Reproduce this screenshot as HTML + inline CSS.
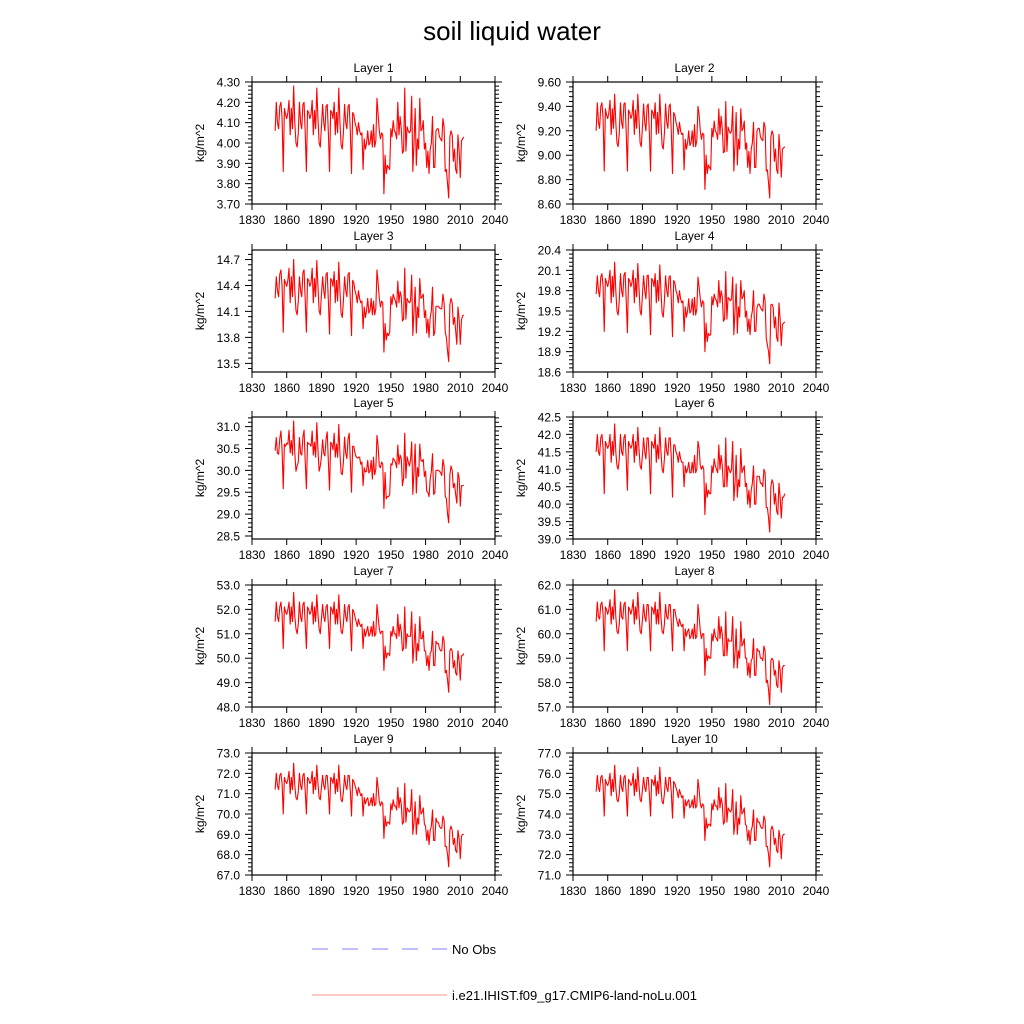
<!DOCTYPE html>
<html><head><meta charset="utf-8"><style>
html,body{margin:0;padding:0;background:#fff;}
svg{display:block;font-family:"Liberation Sans",Arial,sans-serif;}
</style></head><body>
<svg id="chart" width="1024" height="1024" viewBox="0 0 1024 1024" xmlns="http://www.w3.org/2000/svg">
<rect x="0" y="0" width="1024" height="1024" fill="#fff"/>
<text x="512" y="40" font-size="26" text-anchor="middle" fill="#000">soil liquid water</text>
<g id="panels"></g>
<g>
<line x1="312" y1="949" x2="447" y2="949" stroke="#8080ff" stroke-width="1" stroke-dasharray="16,14"/>
<text x="452" y="954" font-size="13" fill="#000">No Obs</text>
<line x1="312" y1="995" x2="447" y2="995" stroke="#ff9090" stroke-width="1"/>
<text x="452" y="1000" font-size="13" fill="#000">i.e21.IHIST.f09_g17.CMIP6-land-noLu.001</text>
</g>
</svg>
<script>
const startYear = 1850;
const xTicks = [1830,1860,1890,1920,1950,1980,2010,2040];
const layerNames = ["Layer 1","Layer 2","Layer 3","Layer 4","Layer 5","Layer 6","Layer 7","Layer 8","Layer 9","Layer 10"];
const yMins = [3.70,8.60,13.40,18.60,28.43,39.0,48.0,57.0,67.0,71.0];
const yMaxs = [4.30,9.60,14.81,20.40,31.22,42.5,53.0,62.0,73.0,77.0];
const yTickStarts = [3.70,8.60,13.5,18.6,28.5,39.0,48.0,57.0,67.0,71.0];
const yTickSteps = [0.1,0.2,0.3,0.3,0.5,0.5,1,1,1,1];
const yTickCounts = [7,6,5,7,6,8,6,6,7,7];
const yTickDecimals = [2,2,1,1,1,1,1,1,1,1];

const layer1 = [4.06,4.20,4.10,4.07,4.18,4.20,4.12,3.86,4.17,4.14,
4.12,4.15,4.21,4.04,4.17,4.07,4.28,4.10,4.00,3.98,
4.05,4.20,4.10,4.07,4.19,4.20,4.05,3.86,4.16,4.15,
4.12,4.14,4.21,4.04,4.16,4.07,4.27,4.12,4.00,3.98,
4.08,4.19,4.10,4.06,4.18,4.19,4.05,3.86,4.16,4.15,
4.12,4.20,4.04,4.15,4.05,4.27,4.10,3.99,3.97,4.05,
4.19,4.10,4.07,4.18,4.19,4.05,3.85,4.15,4.14,4.10,
4.08,4.04,4.10,4.06,4.04,4.05,3.87,4.02,3.97,4.00,
4.06,3.99,4.00,4.06,3.98,4.09,3.98,4.01,4.22,4.14,
4.06,4.02,4.05,4.04,3.75,3.94,3.85,3.89,3.88,3.87,
4.07,4.03,4.11,4.06,4.05,4.02,4.20,4.04,4.13,4.07,
3.95,3.96,4.27,3.96,4.08,4.06,4.05,4.06,4.23,3.86,
4.00,4.17,3.89,4.02,3.97,4.22,4.06,4.07,4.11,3.97,
4.00,3.88,3.96,3.85,3.97,4.00,4.13,3.88,3.88,4.06,
4.07,4.07,4.03,4.02,4.01,4.12,4.08,3.86,3.87,3.80,
3.73,4.03,4.06,4.04,3.91,3.97,3.87,3.85,4.04,3.96,
3.83,4.01,4.02,4.03];
const layer2 = [9.20,9.43,9.27,9.22,9.40,9.43,9.30,8.87,9.38,9.33,
9.30,9.35,9.45,9.17,9.38,9.22,9.50,9.27,9.10,9.07,
9.18,9.43,9.27,9.22,9.42,9.43,9.18,8.87,9.37,9.35,
9.30,9.33,9.45,9.17,9.37,9.22,9.50,9.30,9.10,9.07,
9.23,9.42,9.27,9.20,9.40,9.42,9.18,8.87,9.37,9.35,
9.30,9.43,9.17,9.35,9.18,9.50,9.27,9.08,9.05,9.18,
9.42,9.27,9.22,9.40,9.42,9.18,8.85,9.35,9.33,9.27,
9.23,9.17,9.27,9.20,9.17,9.18,8.88,9.13,9.05,9.10,
9.20,9.08,9.10,9.20,9.07,9.25,9.07,9.12,9.40,9.33,
9.20,9.13,9.18,9.17,8.72,9.00,8.85,8.92,8.90,8.88,
9.22,9.15,9.28,9.20,9.18,9.13,9.38,9.17,9.32,9.22,
9.02,9.03,9.44,9.03,9.23,9.20,9.18,9.20,9.40,8.87,
9.10,9.35,8.92,9.13,9.05,9.38,9.20,9.22,9.28,9.05,
9.10,8.90,9.03,8.85,9.05,9.10,9.27,8.90,8.90,9.20,
9.22,9.22,9.15,9.13,9.12,9.27,9.23,8.87,8.88,8.77,
8.65,9.15,9.20,9.17,8.95,9.05,8.88,8.85,9.17,9.03,
8.82,9.05,9.06,9.07];
const layer3 = [14.25,14.50,14.34,14.27,14.53,14.58,14.39,13.86,14.47,14.43,
14.39,14.46,14.60,14.20,14.50,14.27,14.70,14.34,14.11,14.06,
14.22,14.50,14.34,14.27,14.55,14.58,14.22,13.86,14.48,14.46,
14.39,14.43,14.60,14.20,14.48,14.27,14.69,14.39,14.11,14.06,
14.29,14.50,14.34,14.25,14.53,14.55,14.22,13.84,14.48,14.46,
14.39,14.56,14.20,14.46,14.22,14.67,14.34,14.08,14.03,14.22,
14.50,14.34,14.27,14.53,14.55,14.22,13.82,14.46,14.43,14.34,
14.29,14.20,14.34,14.25,14.20,14.22,13.90,14.15,14.03,14.11,
14.25,14.08,14.11,14.25,14.06,14.22,14.06,14.13,14.58,14.43,
14.25,14.15,14.22,14.20,13.63,13.96,13.77,13.85,13.82,13.86,
14.27,14.18,14.30,14.25,14.22,14.15,14.45,14.20,14.33,14.27,
13.99,14.01,14.60,14.01,14.25,14.22,14.20,14.22,14.52,13.82,
14.11,14.38,13.85,14.15,14.03,14.48,14.25,14.27,14.30,14.03,
14.11,13.85,14.01,13.80,14.03,14.11,14.38,13.82,13.86,14.16,
14.16,14.16,14.14,14.13,14.13,14.30,14.20,13.86,13.80,13.64,
13.52,14.18,14.25,14.20,13.95,14.03,13.88,13.72,14.15,14.01,
13.72,14.00,14.05,14.06];
const layer4 = [19.75,20.02,19.80,19.71,20.00,20.05,19.86,19.20,19.98,19.92,
19.86,19.95,20.10,19.62,20.01,19.71,20.22,19.80,19.50,19.44,
19.65,20.05,19.80,19.71,20.03,20.07,19.65,19.18,19.98,19.95,
19.86,19.92,20.10,19.62,19.98,19.71,20.20,19.86,19.50,19.44,
19.74,20.02,19.80,19.68,20.02,20.03,19.65,19.15,19.98,19.95,
19.86,20.05,19.62,19.95,19.65,20.18,19.80,19.47,19.41,19.65,
20.02,19.80,19.71,20.00,20.02,19.65,19.12,19.95,19.92,19.80,
19.74,19.62,19.80,19.68,19.62,19.65,19.20,19.56,19.41,19.50,
19.68,19.47,19.50,19.68,19.44,19.70,19.44,19.53,20.00,19.85,
19.68,19.56,19.65,19.62,18.90,19.32,19.05,19.17,19.14,19.15,
19.71,19.59,19.75,19.68,19.65,19.56,19.95,19.62,19.80,19.71,
19.35,19.38,20.08,19.38,19.70,19.68,19.65,19.68,20.00,19.15,
19.50,19.90,19.17,19.56,19.41,19.95,19.68,19.71,19.80,19.41,
19.50,19.20,19.38,19.15,19.41,19.50,19.80,19.20,19.20,19.55,
19.60,19.60,19.55,19.52,19.50,19.75,19.65,19.10,19.00,18.90,
18.72,19.59,19.60,19.55,19.25,19.41,19.11,19.05,19.62,19.38,
18.99,19.30,19.32,19.34];
const layer5 = [30.45,30.75,30.39,30.37,30.72,30.90,30.47,29.58,30.60,30.55,
30.62,30.60,30.92,30.40,30.68,30.35,31.13,30.39,29.98,30.10,
30.19,30.75,30.39,30.35,30.76,30.92,30.19,29.58,30.64,30.60,
30.60,30.55,30.90,30.35,30.64,30.30,31.09,30.47,29.98,30.10,
30.31,30.70,30.39,30.33,30.72,30.88,30.19,29.55,30.64,30.60,
30.47,30.85,30.30,30.60,30.30,31.05,30.39,29.94,29.90,30.19,
30.76,30.39,30.27,30.72,30.85,30.19,29.50,30.55,30.55,30.39,
30.31,30.28,30.30,30.30,30.14,30.19,29.65,30.06,29.96,29.98,
30.23,29.94,29.98,30.23,29.80,30.30,29.90,30.02,30.80,30.55,
30.10,30.06,30.19,30.14,29.13,29.95,29.35,29.40,29.40,29.45,
30.15,30.12,30.28,30.23,30.19,30.06,30.58,30.14,30.35,30.27,
29.65,29.82,30.85,29.82,30.31,30.20,30.10,30.23,30.65,29.45,
29.98,30.60,29.48,30.06,29.86,30.60,30.23,30.20,30.25,29.86,
29.98,29.52,29.50,29.40,29.80,29.98,30.38,29.45,29.49,30.00,
30.00,30.00,29.98,29.95,29.88,30.25,30.10,29.41,29.35,29.00,
28.80,29.90,30.10,30.00,29.60,29.70,29.45,29.25,29.95,29.82,
29.18,29.65,29.65,29.66];
const layer6 = [41.5,42.0,41.5,41.4,41.9,42.0,41.6,40.3,41.8,41.7,
41.6,41.7,42.0,41.2,41.8,41.4,42.3,41.5,41.1,41.0,
41.3,42.0,41.5,41.4,41.9,42.0,41.3,40.4,41.8,41.7,
41.6,41.7,42.0,41.2,41.8,41.4,42.2,41.6,41.1,41.0,
41.4,41.9,41.5,41.3,41.9,41.9,41.3,40.3,41.8,41.7,
41.6,42.0,41.2,41.7,41.3,42.2,41.5,41.0,40.9,41.3,
41.9,41.5,41.4,41.9,41.9,41.3,40.2,41.7,41.7,41.5,
41.4,41.2,41.5,41.3,41.2,41.2,40.5,41.1,40.9,41.0,
41.2,40.9,40.9,41.2,40.9,41.4,40.9,41.0,41.8,41.6,
41.1,41.0,41.1,41.0,39.7,40.6,40.2,40.4,40.3,40.3,
41.1,40.9,41.3,41.1,41.0,40.9,41.7,41.0,41.4,41.1,
40.5,40.5,41.9,40.5,41.1,41.0,40.9,41.0,41.8,40.1,
40.6,41.4,40.2,40.7,40.5,41.6,40.9,41.0,41.1,40.5,
40.6,40.0,40.4,39.9,40.4,40.6,41.1,40.0,40.0,40.8,
40.8,40.8,40.6,40.6,40.5,41.0,40.9,39.9,39.9,39.6,
39.2,40.5,40.7,40.6,40.0,40.3,39.8,39.7,40.6,40.2,
39.6,40.2,40.2,40.3];
const layer7 = [51.5,52.3,51.7,51.5,52.1,52.3,51.8,50.4,52.1,51.9,
51.8,52.0,52.3,51.4,52.1,51.5,52.7,51.7,51.2,51.0,
51.4,52.3,51.7,51.5,52.2,52.3,51.4,50.4,52.1,52.0,
51.8,51.9,52.3,51.4,52.1,51.5,52.6,51.8,51.2,51.0,
51.6,52.2,51.7,51.5,52.1,52.2,51.4,50.4,52.1,52.0,
51.8,52.3,51.4,52.0,51.4,52.6,51.7,51.1,51.0,51.4,
52.2,51.7,51.5,52.1,52.2,51.4,50.3,52.0,51.9,51.7,
51.5,51.3,51.6,51.4,51.3,51.4,50.4,51.2,50.9,51.1,
51.3,50.9,51.0,51.3,50.9,51.5,50.9,51.0,52.2,51.7,
51.2,51.0,51.1,51.1,49.5,50.5,50.0,50.2,50.2,50.1,
51.1,50.9,51.3,51.0,51.0,50.8,51.8,50.9,51.4,51.1,
50.3,50.4,52.1,50.4,51.0,50.9,50.9,50.9,51.9,49.8,
50.5,51.4,49.9,50.6,50.3,51.7,50.8,50.8,51.1,50.3,
50.3,49.7,50.1,49.5,50.2,50.3,51.1,49.7,49.7,50.7,
50.6,50.6,50.4,50.3,50.3,50.9,50.7,49.4,49.5,49.1,
48.6,50.3,50.4,50.3,49.6,49.9,49.4,49.3,50.3,49.9,
49.1,50.1,50.1,50.2];
const layer8 = [60.5,61.3,60.7,60.6,61.2,61.3,60.8,59.3,61.1,61.0,
60.8,61.0,61.4,60.4,61.1,60.6,61.8,60.7,60.1,60.0,
60.4,61.3,60.7,60.6,61.2,61.3,60.4,59.3,61.1,61.0,
60.8,61.0,61.4,60.4,61.1,60.6,61.7,60.8,60.1,60.0,
60.6,61.2,60.7,60.5,61.2,61.2,60.4,59.3,61.1,61.0,
60.8,61.3,60.4,61.0,60.4,61.7,60.7,60.1,60.0,60.4,
61.2,60.7,60.6,61.2,61.2,60.4,59.3,61.0,61.0,60.7,
60.5,60.3,60.6,60.4,60.3,60.4,59.3,60.2,59.9,60.1,
60.2,59.8,59.9,60.2,59.8,60.4,59.8,59.9,61.2,60.7,
60.1,59.8,60.0,60.0,58.3,59.4,58.9,59.1,59.0,59.0,
60.0,59.7,60.2,59.9,59.8,59.7,60.7,59.8,60.3,60.0,
59.1,59.1,60.9,59.1,59.8,59.7,59.7,59.7,60.7,58.6,
59.2,60.2,58.6,59.3,59.0,60.5,59.5,59.6,59.8,59.0,
59.0,58.3,58.8,58.2,58.9,59.0,59.8,58.3,58.3,59.4,
59.3,59.3,59.0,59.0,58.9,59.5,59.3,58.0,58.1,57.7,
57.1,58.9,59.0,58.9,58.3,58.5,57.9,57.8,58.9,58.5,
57.6,58.6,58.7,58.7];
const layer9 = [71.2,72.0,71.4,71.2,71.9,72.0,71.5,70.0,71.8,71.6,
71.5,71.7,72.1,71.0,71.8,71.2,72.5,71.4,70.8,70.7,
71.1,72.0,71.4,71.2,71.9,72.0,71.1,70.0,71.8,71.7,
71.5,71.6,72.1,71.0,71.8,71.2,72.4,71.5,70.8,70.7,
71.3,71.9,71.4,71.2,71.9,71.9,71.1,70.0,71.8,71.7,
71.5,72.0,71.0,71.7,71.1,72.4,71.4,70.7,70.6,71.1,
71.9,71.4,71.2,71.9,71.9,71.1,69.9,71.7,71.6,71.4,
71.2,70.9,71.3,71.1,70.9,71.0,69.9,70.8,70.5,70.7,
70.8,70.4,70.5,70.8,70.4,71.0,70.4,70.5,71.8,71.3,
70.6,70.4,70.6,70.5,68.8,69.9,69.4,69.6,69.6,69.5,
70.5,70.2,70.7,70.4,70.4,70.2,71.3,70.3,70.8,70.5,
69.5,69.6,71.5,69.6,70.3,70.2,70.1,70.2,71.2,69.0,
69.6,70.6,69.0,69.8,69.5,70.9,70.0,70.1,70.3,69.5,
69.4,68.7,69.2,68.5,69.2,69.4,70.2,68.7,68.7,69.8,
69.6,69.6,69.4,69.3,69.3,69.9,69.7,68.4,68.4,68.0,
67.4,69.2,69.4,69.2,68.5,68.8,68.2,68.1,69.2,68.8,
67.8,68.9,69.0,69.0];
const layer10 = [75.1,75.9,75.3,75.1,75.8,75.9,75.4,73.9,75.7,75.5,
75.4,75.6,76.0,74.9,75.7,75.1,76.4,75.3,74.7,74.6,
75.0,75.9,75.3,75.1,75.8,75.9,75.0,73.9,75.7,75.6,
75.4,75.5,76.0,74.9,75.7,75.1,76.3,75.4,74.7,74.6,
75.2,75.8,75.3,75.1,75.8,75.8,75.0,73.9,75.7,75.6,
75.4,75.9,74.9,75.6,75.0,76.3,75.3,74.6,74.5,75.0,
75.8,75.3,75.1,75.8,75.8,75.0,73.8,75.6,75.5,75.3,
75.1,74.8,75.2,75.0,74.8,74.9,73.8,74.7,74.4,74.6,
74.7,74.3,74.4,74.7,74.3,74.9,74.3,74.4,75.7,75.2,
74.5,74.3,74.5,74.4,72.7,73.8,73.3,73.5,73.5,73.4,
74.5,74.2,74.7,74.4,74.4,74.2,75.3,74.3,74.8,74.5,
73.5,73.6,75.5,73.6,74.3,74.2,74.1,74.2,75.2,73.0,
73.6,74.6,73.0,73.8,73.5,74.9,74.0,74.1,74.3,73.5,
73.4,72.7,73.2,72.5,73.2,73.4,74.2,72.7,72.7,73.8,
73.6,73.6,73.4,73.3,73.3,73.9,73.7,72.4,72.4,72.0,
71.4,73.2,73.4,73.2,72.5,72.8,72.2,72.1,73.2,72.8,
71.8,72.9,73.0,73.0];
const layerSeries = [layer1,layer2,layer3,layer4,layer5,layer6,layer7,layer8,layer9,layer10];

const NS = "http://www.w3.org/2000/svg";
const colX = [252, 573];
const rowY = [82, 250, 417, 585, 753];
const PW = 243, PH = 122;
const root = document.getElementById('panels');
function mk(tag, attrs, parent){
  const e = document.createElementNS(NS, tag);
  for (const k in attrs) e.setAttribute(k, attrs[k]);
  parent.appendChild(e);
  return e;
}
for (let i = 0; i < 10; i++){
  const x0 = colX[i % 2], y0 = rowY[Math.floor(i / 2)];
  const ymin = yMins[i], ymax = yMaxs[i];
  const xs = v => x0 + (v - 1830) / 210 * PW;
  const ys = v => y0 + PH - (v - ymin) / (ymax - ymin) * PH;
  const g = mk('g', {}, root);
  
  
  const t = mk('text', {x: x0 + PW / 2, y: y0 - 10, 'font-size': 12, 'text-anchor': 'middle', fill: '#000'}, g);
  
  
  t.textContent = layerNames[i];
  const yt = mk('text', {x: x0 - 48, y: y0 + PH / 2, 'font-size': 12, 'text-anchor': 'middle', fill: '#000', transform: 'rotate(-90 ' + (x0 - 48) + ' ' + (y0 + PH / 2) + ')'}, g);
  
  
  yt.textContent = 'kg/m^2';
  for (let k = 0; k < xTicks.length; k++){
    const xv = xs(xTicks[k]);
    const tk = mk('path', {d: 'M' + xv + ' ' + (y0 + PH) + 'v6M' + xv + ' ' + y0 + 'v-6', stroke: '#000', 'stroke-width': 1}, g);
    
    
    const lb = mk('text', {x: xv, y: y0 + PH + 20, 'font-size': 12, 'text-anchor': 'middle', fill: '#000'}, g);
    
    
    lb.textContent = xTicks[k];
  }
  const step = yTickSteps[i];
  for (let k = 0; k < yTickCounts[i]; k++){
    const v = yTickStarts[i] + k * step;
    const yv = ys(v);
    const tk = mk('path', {d: 'M' + x0 + ' ' + yv + 'h-7M' + (x0 + PW) + ' ' + yv + 'h7', stroke: '#000', 'stroke-width': 1}, g);
    
    
    const lb = mk('text', {x: x0 - 12, y: yv + 4.5, 'font-size': 12, 'text-anchor': 'end', fill: '#000'}, g);
    
    
    lb.textContent = v.toFixed(yTickDecimals[i]);
  }
  let mt = '';
  const firstMinor = yTickStarts[i] - step;
  for (let k = 0; k < 60; k++){
    const v = firstMinor + k * step / 5;
    if (k % 5 === 0) continue;
    if (v < ymin - 1e-9 || v > ymax + 1e-9) continue;
    const yv = ys(v);
    mt += 'M' + x0 + ' ' + yv + 'h-4M' + (x0 + PW) + ' ' + yv + 'h4';
  }
  const mp = mk('path', {d: mt, stroke: '#000', 'stroke-width': 1}, g);
  
  
  const data = layerSeries[i];
  const pts = data.map((v, j) => xs(startYear + j).toFixed(2) + ',' + ys(v).toFixed(2)).join(' ');
  const pl = mk('polyline', {points: pts, fill: 'none', stroke: '#ff0000', 'stroke-width': 1.1, 'stroke-linejoin': 'round'}, g);
  
  
  const fr = mk('rect', {x: x0, y: y0, width: PW, height: PH, fill: 'none', stroke: '#000', 'stroke-width': 1.2}, g);
  
  
}
</script>
</body></html>
